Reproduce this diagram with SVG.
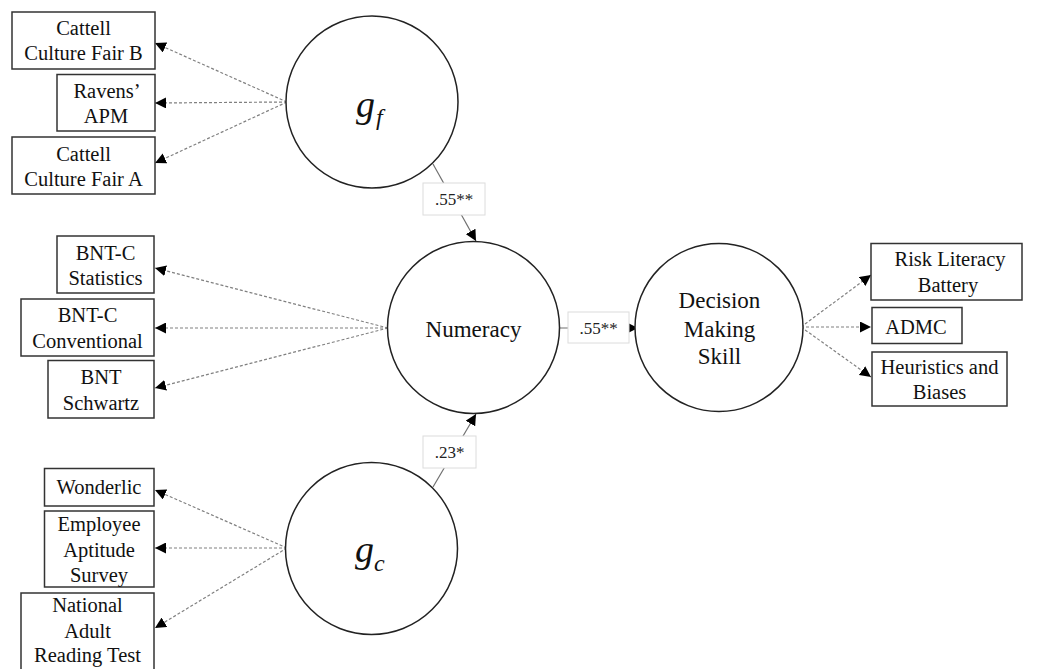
<svg xmlns="http://www.w3.org/2000/svg" width="1054" height="669" viewBox="0 0 1054 669">
  <defs>
    <style>
      .box { fill: #fff; stroke: #333; stroke-width: 1.5; }
      .latent { fill: #fff; stroke: #222; stroke-width: 1.5; }
      text { font-family: 'Liberation Serif', 'DejaVu Serif', 'Times New Roman', Times, serif; }
      .t { font-size: 20.5px; fill: #111; text-anchor: middle; }
      .tc { font-size: 23px; fill: #111; text-anchor: middle; }
      .sym { font-style: italic; fill: #111; }
      .load { fill: none; stroke: #808080; stroke-width: 1.2; stroke-dasharray: 3 2; }
      .path { fill: none; stroke: #707070; stroke-width: 1.2; }
      .coef { fill: #fff; stroke: #dcdcdc; stroke-width: 1; }
      .ct { font-size: 17px; fill: #222; text-anchor: middle; }
    </style>
    <marker id="arrow" viewBox="0 0 10 10" refX="10" refY="5" markerWidth="11" markerHeight="11" markerUnits="userSpaceOnUse" orient="auto">
      <path d="M0,0 L10,5 L0,10 z" fill="#000"/>
    </marker>
  </defs>

  <!-- connectors: factor loadings (dashed) and structural paths (solid) -->
  <g id="connectors">
    <line class="load" x1="287" y1="102" x2="155" y2="43" marker-end="url(#arrow)"/>
    <line class="load" x1="287" y1="102" x2="155" y2="103" marker-end="url(#arrow)"/>
    <line class="load" x1="287" y1="102" x2="155" y2="163" marker-end="url(#arrow)"/>

    <line class="load" x1="388" y1="328" x2="155" y2="268" marker-end="url(#arrow)"/>
    <line class="load" x1="388" y1="328" x2="155" y2="328" marker-end="url(#arrow)"/>
    <line class="load" x1="388" y1="328" x2="155" y2="388" marker-end="url(#arrow)"/>

    <line class="load" x1="287" y1="548" x2="155" y2="490" marker-end="url(#arrow)"/>
    <line class="load" x1="287" y1="548" x2="155" y2="548" marker-end="url(#arrow)"/>
    <line class="load" x1="287" y1="548" x2="155" y2="628" marker-end="url(#arrow)"/>

    <line class="load" x1="801" y1="327" x2="871" y2="275" marker-end="url(#arrow)"/>
    <line class="load" x1="801" y1="327" x2="871" y2="327" marker-end="url(#arrow)"/>
    <line class="load" x1="801" y1="327" x2="871" y2="377" marker-end="url(#arrow)"/>

    <line class="path" x1="433" y1="164" x2="476" y2="241" marker-end="url(#arrow)"/>
    <line class="path" x1="433" y1="487" x2="476" y2="414" marker-end="url(#arrow)"/>
    <line class="path" x1="559" y1="328" x2="638" y2="328" marker-end="url(#arrow)"/>

    <rect class="coef" x="423" y="183" width="62" height="32"/>
    <text class="ct" x="454" y="205">.55**</text>
    <rect class="coef" x="423" y="436" width="53" height="32"/>
    <text class="ct" x="449.5" y="458">.23*</text>
    <rect class="coef" x="568" y="312" width="61" height="31"/>
    <text class="ct" x="598.5" y="334">.55**</text>
  </g>

  <!-- latent factors -->
  <g id="gf">
    <circle class="latent" cx="372" cy="102" r="86"/>
    <text class="sym" x="356" y="117" font-size="38">g</text>
    <text class="sym" x="376" y="125" font-size="24">f</text>
  </g>
  <g id="numeracy">
    <circle class="latent" cx="473.5" cy="327.5" r="86"/>
    <text class="tc" x="473.5" y="337">Numeracy</text>
  </g>
  <g id="gc">
    <circle class="latent" cx="371.5" cy="548.5" r="86"/>
    <text class="sym" x="355" y="562" font-size="38">g</text>
    <text class="sym" x="374" y="571" font-size="24">c</text>
  </g>
  <g id="dms">
    <circle class="latent" cx="719" cy="327.5" r="84"/>
    <text class="tc" x="719.5" y="308">Decision</text>
    <text class="tc" x="719.5" y="336.5">Making</text>
    <text class="tc" x="719.5" y="364">Skill</text>
  </g>

  <!-- observed indicators: fluid intelligence -->
  <g id="cattell-b">
    <rect class="box" x="12" y="12" width="143" height="57"/>
    <text class="t" x="83.5" y="35">Cattell</text>
    <text class="t" x="83.5" y="60">Culture Fair B</text>
  </g>
  <g id="ravens">
    <rect class="box" x="57" y="74.5" width="98" height="56.5"/>
    <text class="t" x="107" y="97.5">Ravens’</text>
    <text class="t" x="106" y="123">APM</text>
  </g>
  <g id="cattell-a">
    <rect class="box" x="12" y="137" width="143" height="57"/>
    <text class="t" x="83.5" y="161">Cattell</text>
    <text class="t" x="83.5" y="185.5">Culture Fair A</text>
  </g>

  <!-- observed indicators: numeracy -->
  <g id="bntc-stat">
    <rect class="box" x="57" y="236" width="97" height="57"/>
    <text class="t" x="105.5" y="260">BNT-C</text>
    <text class="t" x="105.5" y="284.5">Statistics</text>
  </g>
  <g id="bntc-conv">
    <rect class="box" x="21" y="299" width="133" height="57"/>
    <text class="t" x="87.5" y="322">BNT-C</text>
    <text class="t" x="87.5" y="347.5">Conventional</text>
  </g>
  <g id="bnt-schwartz">
    <rect class="box" x="48" y="360.5" width="106" height="57.5"/>
    <text class="t" x="101" y="383.5">BNT</text>
    <text class="t" x="101" y="410">Schwartz</text>
  </g>

  <!-- observed indicators: crystallized intelligence -->
  <g id="wonderlic">
    <rect class="box" x="44.5" y="468.5" width="109.5" height="37.5"/>
    <text class="t" x="99" y="494">Wonderlic</text>
  </g>
  <g id="eas">
    <rect class="box" x="44.5" y="511" width="109.5" height="76"/>
    <text class="t" x="99" y="531">Employee</text>
    <text class="t" x="99" y="556.5">Aptitude</text>
    <text class="t" x="99" y="581.5">Survey</text>
  </g>
  <g id="nart">
    <rect class="box" x="21" y="593" width="133" height="80"/>
    <text class="t" x="87.5" y="612">National</text>
    <text class="t" x="87.5" y="637.5">Adult</text>
    <text class="t" x="87.5" y="662">Reading Test</text>
  </g>

  <!-- observed indicators: decision making -->
  <g id="rlb">
    <rect class="box" x="871" y="243.5" width="151" height="56.5"/>
    <text class="t" x="950" y="266">Risk Literacy</text>
    <text class="t" x="948" y="291.5">Battery</text>
  </g>
  <g id="admc">
    <rect class="box" x="872" y="307.5" width="90" height="36"/>
    <text class="t" x="916" y="333.5">ADMC</text>
  </g>
  <g id="hb">
    <rect class="box" x="872" y="352" width="135" height="54"/>
    <text class="t" x="939.5" y="373.5">Heuristics and</text>
    <text class="t" x="939.5" y="398.5">Biases</text>
  </g>
</svg>
